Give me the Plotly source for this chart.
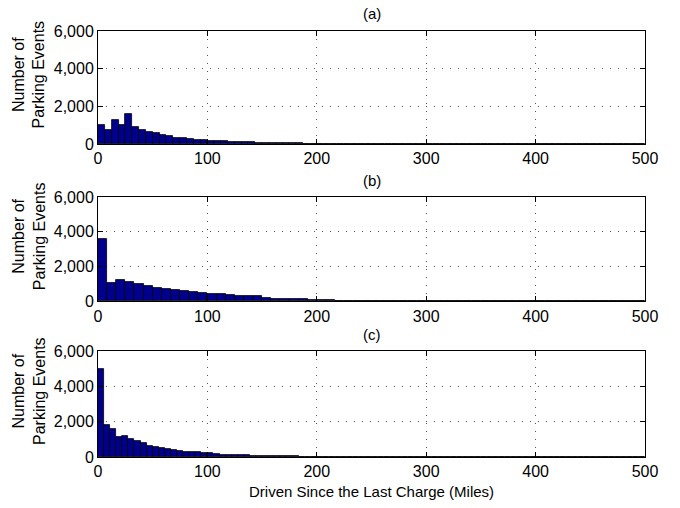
import numpy as np
import plotly.graph_objects as go

# ---- data (counts per bin) ----
x_max = 500
counts_a = [990, 740, 1300, 1000, 1570, 880, 770, 650, 580, 490, 420, 320, 335, 265, 230, 195,
            170, 150, 135, 120, 105, 90, 80, 70, 60, 52, 45, 40, 35, 30, 26, 22, 19, 16, 14, 12,
            10, 8, 7, 6, 5, 4, 3, 3, 2, 2, 2, 1, 1, 1, 1, 1, 1, 1, 1, 1, 0, 0, 0, 0,
            0, 0, 0, 0, 0, 0, 0, 0, 0, 0, 0, 0, 0, 0, 0, 0, 0, 0, 0, 0]
counts_b = [3580, 1080, 1220, 1120, 990, 880, 780, 710, 640, 580, 540, 470, 440, 440, 390, 330,
            290, 280, 210, 160, 150, 115, 110, 90, 70, 55, 45, 35, 30, 25, 20, 15, 12, 10, 8, 6,
            5, 4, 3, 3, 2, 2, 1, 1, 1, 1, 1, 0, 0, 0, 0, 0, 0, 0, 0, 0, 0, 0, 0, 0]
counts_c = [5000, 1810, 1570, 1160, 1180, 1030, 900, 785, 640, 580, 490, 450, 395, 355, 300, 262,
            262, 224, 205, 170, 140, 130, 115, 105, 95, 80, 72, 62, 55, 48, 42, 36, 30, 26, 22, 19,
            16, 14, 12, 10, 8, 7, 6, 5, 4, 3, 3, 2, 2, 2, 1, 1, 1, 1, 1, 1, 1, 0, 0, 0,
            0, 0, 0, 0, 0, 0, 0, 0, 0, 0, 0, 0, 0, 0, 0, 0, 0, 0, 0, 0, 0, 0, 0, 0, 0, 0,
            0, 0, 0, 0]
panel_titles = ["(a)", "(b)", "(c)"]
y_ticks = [0, 2000, 4000, 6000]
y_ticklabels = ["0", "2,000", "4,000", "6,000"]
x_ticks = [0, 100, 200, 300, 400, 500]
y_title = "Number of<br>Parking Events"
x_title = "Driven Since the Last Charge (Miles)"

FONT = "Liberation Sans, Arial, Helvetica, sans-serif"
BAR = "#00008C"

W, H = 680, 508
ML, MR, MT, MB = 98, 35, 31, 51
plot_h = H - MT - MB

def dom(top_px, bot_px):
    return [(H - MB - bot_px) / plot_h, (H - MB - top_px) / plot_h]

panels_px = [(31, 144), (197, 301.3), (351, 457)]
fig = go.Figure()
all_counts = [counts_a, counts_b, counts_c]

layout = dict(
    width=W, height=H, margin=dict(l=ML, r=MR, t=MT, b=MB),
    paper_bgcolor="white", plot_bgcolor="white",
    font=dict(family=FONT, size=16, color="black"),
    showlegend=False, bargap=0,
)
annotations = []
for i, (counts, (tp, bp)) in enumerate(zip(all_counts, panels_px)):
    n = len(counts)
    w = x_max / n
    centers = (np.arange(n) + 0.5) * w
    xa = "x" if i == 0 else f"x{i+1}"
    ya = "y" if i == 0 else f"y{i+1}"
    fig.add_trace(go.Bar(x=centers, y=counts, width=w, xaxis=xa, yaxis=ya,
                         marker=dict(color=BAR, line=dict(color="black", width=0.8))))
    axis_common = dict(showline=True, linecolor="black", linewidth=1, mirror="ticks",
                       ticks="inside", ticklen=5, tickcolor="black",
                       showgrid=True, gridcolor="#555", griddash="1px,7px", gridwidth=1,
                       zeroline=False, tickfont=dict(size=16, family=FONT))
    xkey = "xaxis" if i == 0 else f"xaxis{i+1}"
    ykey = "yaxis" if i == 0 else f"yaxis{i+1}"
    layout[xkey] = dict(axis_common, domain=[0, 1], range=[0, x_max], tickvals=x_ticks,
                        anchor=ya)
    layout[ykey] = dict(axis_common, domain=dom(tp, bp), range=[0, 6000], tickvals=y_ticks,
                        ticktext=y_ticklabels, anchor=xa)
    annotations.append(dict(text=panel_titles[i], xref="paper", yref="paper",
                            x=0.5, y=(H - MB - (tp - 17)) / plot_h, xanchor="center",
                            yanchor="middle", showarrow=False, font=dict(size=15)))
    center_px = (tp + bp) / 2 - 13
    annotations.append(dict(text=y_title, xref="paper", yref="paper",
                            x=(29 - ML) / (W - ML - MR), y=(H - MB - center_px) / plot_h,
                            xanchor="center", yanchor="middle", textangle=-90,
                            showarrow=False, font=dict(size=16)))

annotations.append(dict(text=x_title, xref="paper", yref="paper", x=0.5,
                        y=(H - MB - 491) / plot_h, xanchor="center", yanchor="middle",
                        showarrow=False, font=dict(size=15)))
layout["annotations"] = annotations
fig.update_layout(**layout)
fig.write_html("out.html")
